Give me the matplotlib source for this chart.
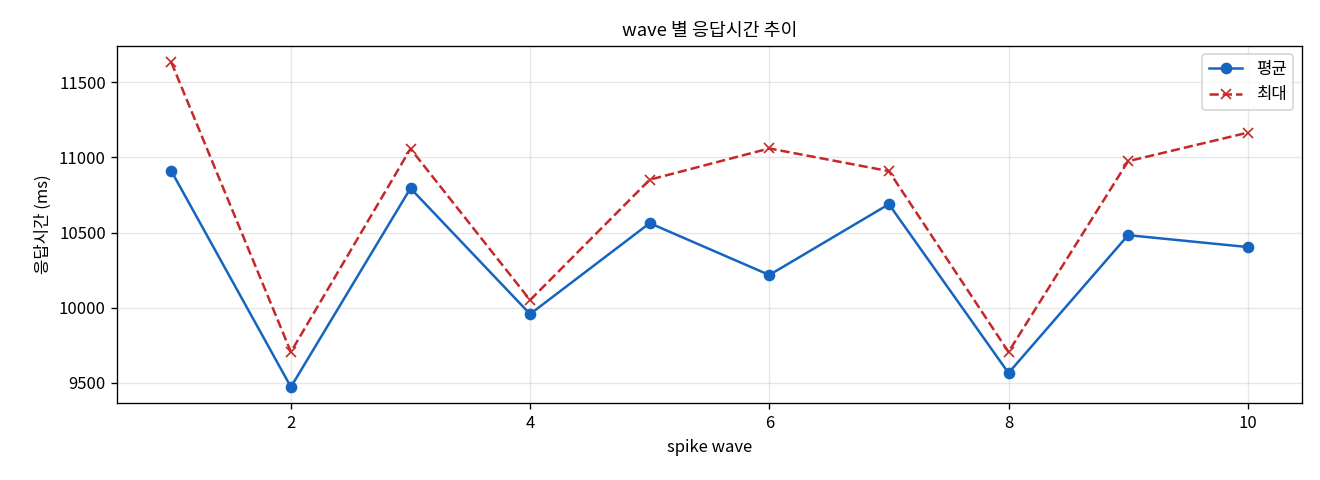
import matplotlib
matplotlib.use("Agg")
import matplotlib.pyplot as plt

plt.rcParams["font.family"] = ["Noto Sans CJK KR", "DejaVu Sans"]

waves = [1, 2, 3, 4, 5, 6, 7, 8, 9, 10]
avg_ms = [10910, 9473, 10795, 9958, 10563, 10218, 10689, 9566, 10483, 10404]
max_ms = [11633, 9706, 11058, 10051, 10852, 11060, 10909, 9706, 10975, 11165]

fig, ax = plt.subplots(figsize=(11, 4), dpi=120)
ax.plot(waves, avg_ms, "-o", color="#1565C0", markersize=6, linewidth=1.5, label="평균")
ax.plot(waves, max_ms, "--x", color="#C62828", markersize=6, linewidth=1.5, label="최대")
ax.set_title("wave 별 응답시간 추이", fontsize=11)
ax.set_xlabel("spike wave", fontsize=10)
ax.set_ylabel("응답시간 (ms)", fontsize=10)
ax.grid(True, alpha=0.3)
ax.legend(loc="upper right")
fig.subplots_adjust(left=0.089, right=0.986, top=0.904, bottom=0.16)
fig.savefig("out.png")
